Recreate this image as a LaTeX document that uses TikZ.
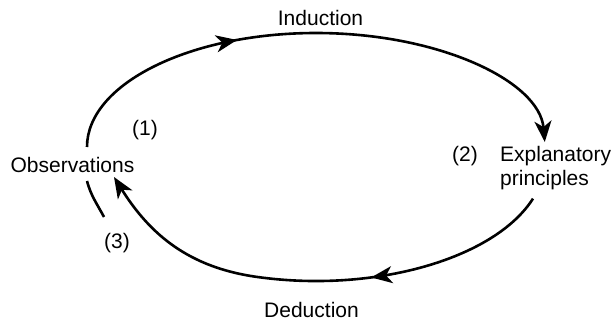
\documentclass[tikz,border=0pt]{standalone}
\usepackage{fontspec}
\setmainfont{Liberation Sans}
\usetikzlibrary{arrows.meta,decorations.markings}

\begin{document}
\begin{tikzpicture}[x=1pt,y=1pt,
  label text/.style={font=\fontsize{21}{24}\selectfont, inner sep=0pt},
  cycle line/.style={line width=2.6pt},
  cycle tip/.style={-{Stealth[length=21pt,width=17pt,inset=6pt]}},
  mid arrow/.style={postaction={decorate},
    decoration={markings,mark=at position #1 with {\arrow{Stealth[length=21pt,width=17pt,inset=6pt]}}}}]

\useasboundingbox (0,0) rectangle (612,322);

\coordinate (ind-start) at (87,175);
\coordinate (ded-start) at (533,123.4);
\coordinate (obs-tip) at (114,145);
\coordinate (gap-top) at (87,141);
\coordinate (gap-end) at (104,105);

\draw[cycle line, cycle tip, mid arrow=0.36] (ind-start)
  arc[start angle=180, end angle=2.5, x radius=229, y radius=114];
\draw[cycle line, cycle tip, mid arrow=0.385] (ded-start)
  arc[start angle=-18.6, end angle=-105, x radius=229, y radius=121]
  to[out=172, in=-58] (obs-tip);
\draw[cycle line] (gap-top) to[out=-75, in=118] (gap-end);

\node[label text, anchor=base] (induction) at (320.5,296) {Induction};
\node[label text, anchor=base] (deduction) at (311.5,5) {Deduction};
\node[label text, anchor=base] (observations) at (72.5,150) {Observations};
\node[label text, anchor=north west, align=left] (principles) at (500,176) {Explanatory\\principles};

\node[label text] (step1) at (145,192) {(1)};
\node[label text] (step2) at (465,166) {(2)};
\node[label text] (step3) at (117,79) {(3)};
\end{tikzpicture}
\end{document}
